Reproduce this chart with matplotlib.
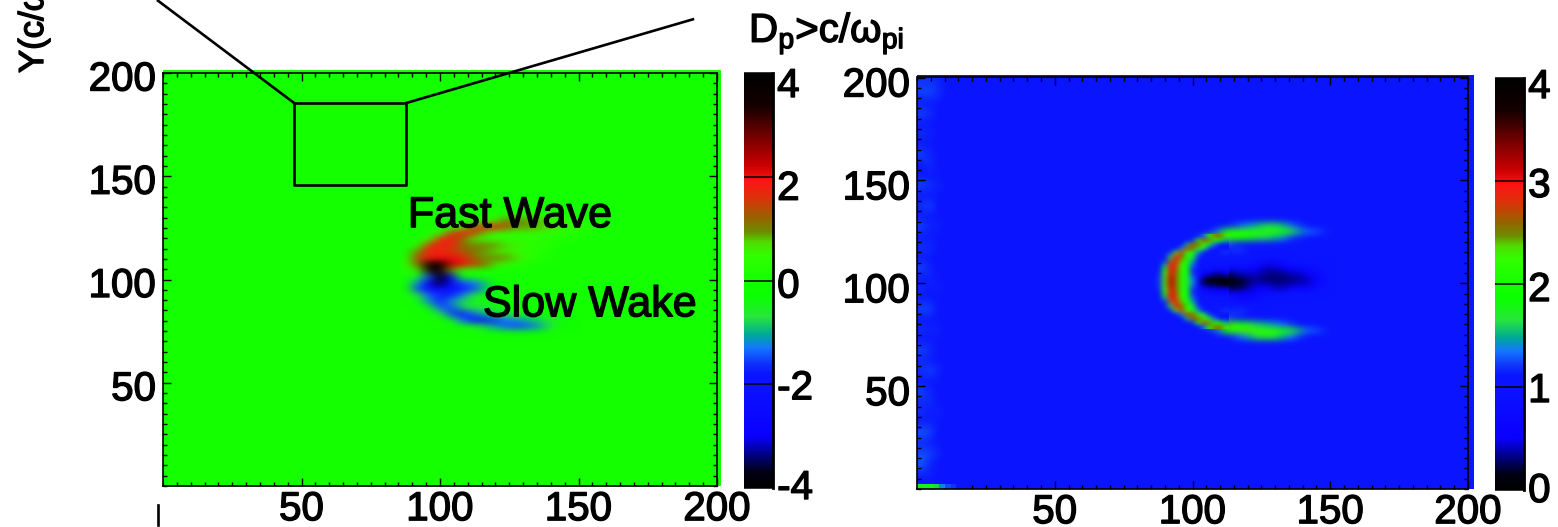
import matplotlib
matplotlib.use("Agg")
import numpy as np
import matplotlib.pyplot as plt
import matplotlib.patheffects as pe
from matplotlib.colors import LinearSegmentedColormap
from matplotlib.patches import Rectangle
from matplotlib.transforms import ScaledTranslation
from matplotlib.ticker import MultipleLocator

plt.rcParams['font.family'] = ['Liberation Sans', 'DejaVu Sans']
plt.rcParams['mathtext.fontset'] = 'custom'
plt.rcParams['mathtext.rm'] = 'Liberation Sans'
plt.rcParams['mathtext.it'] = 'Liberation Sans'
plt.rcParams['mathtext.bf'] = 'Liberation Sans:bold'

W, H = 1558, 527

# ---- data ----
tick_values = [50, 100, 150, 200]
tick_labels = ['50', '100', '150', '200']
left_cbar_ticks = [4, 2, 0, -2, -4]
left_cbar_labels = ['4', '2', '0', '-2', '-4']
right_cbar_ticks = [4, 3, 2, 1, 0]
right_cbar_labels = ['4', '3', '2', '1', '0']

box_x = [47.3, 87.9, 87.9, 47.3, 47.3]
box_y = [185.5, 185.5, 145.8, 145.8, 185.5]
connector_left_x = [47.3, -1.8]
connector_left_y = [185.5, 235.0]
connector_right_x = [87.9, 191.3]
connector_right_y = [185.5, 226.0]
stub_x = [-1.8, -1.8]
stub_y = [-9.2, -19.0]

left_xs = [88, 92, 96, 100, 104, 108, 112, 116, 120, 124, 128, 132, 136, 140, 144, 148, 152, 156, 160]
left_ys = [134, 131, 128, 125, 122, 119, 116, 113, 110, 107, 104, 101, 98, 95, 92, 89, 86, 83, 80, 77, 74, 71]
left_field = [
 [0, 0, 0, 0, 0, 0, 0, 0, 0, 0, 0, 0, 0, 0, 0, 0, 0, 0, 0],
 [0, 0, 0, 0, 0, 0, 0, 0, .1, .2, .3, .3, .2, .1, .1, 0, 0, 0, 0],
 [0, 0, 0, 0, 0, 0, .1, .3, .6, 1.0, 1.0, .9, .8, .6, .4, .3, .1, 0, 0],
 [0, 0, 0, 0, .2, .6, 1.4, 1.8, 1.8, 1.3, .9, .9, .8, .7, .6, .5, .3, .2, .1],
 [0, 0, 0, .5, 1.4, 1.8, 1.5, .8, .5, .4, .5, .5, .5, .4, .3, .2, .1, 0, 0],
 [0, 0, .5, 1.7, 1.9, 1.2, .7, .5, .5, .4, .3, .3, .3, .2, .1, .1, 0, 0, 0],
 [0, .3, 1.6, 1.8, 1.7, 1.2, 1.0, 1.0, .9, .7, .6, .4, .3, .2, .1, 0, 0, 0, 0],
 [0, 1.0, 1.8, 1.7, 1.6, 1.3, 1.1, .9, .7, .6, .4, .3, .2, .1, 0, 0, 0, 0, 0],
 [.1, 1.4, 1.8, 2.0, 2.0, 1.8, 1.2, .9, 1.0, .9, .7, .4, .2, .1, 0, 0, 0, 0, 0],
 [.3, 1.2, 3.6, 3.9, 2.3, 2.0, 1.5, 1.2, .7, .4, .2, .1, 0, 0, 0, 0, 0, 0, 0],
 [.1, .6, 3.2, 3.8, 1.0, .3, .1, 0, 0, 0, 0, 0, 0, 0, 0, 0, 0, 0, 0],
 [0, -.5, -1.5, -3.9, -3.0, -.4, -.1, 0, 0, 0, 0, 0, 0, 0, 0, 0, 0, 0, 0],
 [0, -1.2, -3.0, -3.6, -2.8, -1.5, -1.3, -.9, -.3, 0, 0, 0, 0, 0, 0, 0, 0, 0, 0],
 [0, -1.5, -2.4, -2.4, -2.2, -1.8, -1.5, -1.0, -.4, -.1, 0, 0, 0, 0, 0, 0, 0, 0, 0],
 [0, -.7, -1.4, -1.7, -1.7, -1.3, -.7, -.4, -.2, -.1, 0, 0, 0, 0, 0, 0, 0, 0, 0],
 [0, -.1, -1.2, -1.7, -1.2, -.8, -.5, -.4, -.3, -.1, 0, 0, 0, 0, 0, 0, 0, 0, 0],
 [0, 0, -.4, -1.4, -1.5, -.9, -.7, -.7, -.5, -.3, -.2, -.1, 0, 0, 0, 0, 0, 0, 0],
 [0, 0, -.1, -.6, -1.5, -1.8, -1.4, -1.0, -.8, -.6, -.5, -.4, -.3, -.2, -.1, 0, 0, 0, 0],
 [0, 0, 0, -.1, -.4, -1.3, -1.8, -1.8, -1.6, -1.3, -1.2, -1.0, -.8, -.6, -.4, -.1, 0, 0, 0],
 [0, 0, 0, 0, -.1, -.2, -.5, -.8, -1.1, -1.4, -1.5, -1.4, -1.1, -.7, -.3, -.1, 0, 0, 0],
 [0, 0, 0, 0, 0, 0, 0, 0, -.2, -.3, -.4, -.3, -.2, -.1, 0, 0, 0, 0, 0],
 [0, 0, 0, 0, 0, 0, 0, 0, 0, 0, 0, 0, 0, 0, 0, 0, 0, 0, 0],
]

right_xs = [88, 91, 94, 97, 100, 103, 106, 109, 112, 115, 118, 121, 124, 127, 130, 133, 136, 139, 142, 145, 148, 151]
right_ys = [131, 128, 125, 122, 119, 116, 113, 110, 107, 104, 101, 98, 95, 92, 89, 86, 83, 80, 77, 74, 71]
right_field = [
 [1.05, 1.05, 1.05, 1.05, 1.05, 1.05, 1.05, 1.05, 1.05, 1.05, 1.05, 1.05, 1.05, 1.05, 1.05, 1.05, 1.05, 1.05, 1.05, 1.05, 1.05, 1.05],
 [1.05, 1.05, 1.05, 1.05, 1.05, 1.05, 1.05, 1.05, 1.05, 1.2, 1.3, 1.4, 1.5, 1.6, 1.6, 1.5, 1.3, 1.2, 1.05, 1.05, 1.05, 1.05],
 [1.05, 1.05, 1.05, 1.05, 1.05, 1.05, 1.1, 1.3, 1.9, 2.15, 2.1, 2.1, 2.15, 2.1, 2.1, 2.0, 1.7, 1.45, 1.3, 1.25, 1.15, 1.05],
 [1.05, 1.05, 1.05, 1.05, 1.05, 1.2, 2.2, 2.45, 2.3, 2.05, 1.95, 1.8, 1.6, 1.6, 1.5, 1.4, 1.2, 1.15, 1.1, 1.05, 1.05, 1.05],
 [1.05, 1.05, 1.05, 1.2, 2.0, 2.6, 2.3, 1.7, 1.3, 1.15, 1.1, 1.05, 1.05, 1.05, 1.05, 1.05, 1.05, 1.05, 1.05, 1.05, 1.05, 1.05],
 [1.05, 1.05, 1.4, 2.7, 2.15, 1.6, 1.2, 1.05, 1.05, 1.2, 1.2, 1.1, 1.05, 1.05, 1.05, 1.05, 1.05, 1.05, 1.05, 1.05, 1.05, 1.05],
 [1.05, 1.2, 2.75, 2.2, 1.6, 1.15, 1.05, 1.05, 1.05, 1.05, 1.05, 1.05, 1.05, 1.05, 1.05, 1.05, 1.05, 1.05, 1.05, 1.05, 1.05, 1.05],
 [1.05, 2.0, 2.9, 2.05, 1.3, 1.05, 1.05, 1.05, 1.05, 1.05, 1.05, 1.05, .9, .7, .7, .8, 1.0, 1.05, 1.05, 1.05, 1.05, 1.05],
 [1.1, 2.7, 2.8, 2.05, 1.3, .9, .9, .8, .8, .8, .8, .7, .5, .4, .4, .5, .6, .7, .8, .9, 1.05, 1.05],
 [1.2, 3.0, 2.6, 2.0, 1.4, .7, .3, .2, .2, .3, .4, .4, .4, .3, .3, .3, .4, .4, .5, .7, .9, 1.05],
 [1.3, 3.1, 2.5, 1.9, 1.5, .5, .05, 0, 0, .05, .15, .3, .35, .3, .3, .3, .3, .35, .4, .6, .9, 1.05],
 [1.2, 3.0, 2.6, 2.0, 1.4, .8, .4, .3, .2, .2, .25, .4, .5, .5, .4, .4, .5, .5, .6, .8, 1.0, 1.05],
 [1.1, 2.7, 2.8, 2.05, 1.3, 1.0, .9, .8, .7, .6, .5, .6, .7, .8, .9, .9, 1.0, 1.05, 1.05, 1.05, 1.05, 1.05],
 [1.05, 2.0, 2.9, 2.05, 1.3, 1.05, 1.05, 1.05, 1.05, .9, .7, .7, .9, 1.05, 1.05, 1.05, 1.05, 1.05, 1.05, 1.05, 1.05, 1.05],
 [1.05, 1.2, 2.75, 2.2, 1.6, 1.15, 1.05, 1.05, 1.05, 1.05, 1.05, 1.05, 1.05, 1.05, 1.05, 1.05, 1.05, 1.05, 1.05, 1.05, 1.05, 1.05],
 [1.05, 1.05, 1.4, 2.7, 2.15, 1.6, 1.2, 1.05, 1.05, 1.2, 1.2, 1.1, 1.05, 1.05, 1.05, 1.05, 1.05, 1.05, 1.05, 1.05, 1.05, 1.05],
 [1.05, 1.05, 1.05, 1.2, 2.0, 2.6, 2.4, 1.7, 1.3, 1.15, 1.1, 1.05, 1.05, 1.05, 1.05, 1.05, 1.05, 1.05, 1.05, 1.05, 1.05, 1.05],
 [1.05, 1.05, 1.05, 1.05, 1.05, 1.2, 2.2, 2.55, 2.45, 2.2, 1.9, 1.7, 1.55, 1.5, 1.4, 1.3, 1.2, 1.1, 1.1, 1.05, 1.05, 1.05],
 [1.05, 1.05, 1.05, 1.05, 1.05, 1.05, 1.1, 1.3, 1.9, 2.2, 2.3, 2.3, 2.25, 2.2, 2.1, 1.95, 1.75, 1.5, 1.3, 1.25, 1.15, 1.05],
 [1.05, 1.05, 1.05, 1.05, 1.05, 1.05, 1.05, 1.05, 1.05, 1.2, 1.35, 1.5, 1.7, 1.75, 1.7, 1.5, 1.35, 1.2, 1.1, 1.05, 1.05, 1.05],
 [1.05, 1.05, 1.05, 1.05, 1.05, 1.05, 1.05, 1.05, 1.05, 1.05, 1.05, 1.05, 1.05, 1.05, 1.05, 1.05, 1.05, 1.05, 1.05, 1.05, 1.05, 1.05],
]

# finer reading of the nose of the arc in the right panel
nose_xs = [86, 88, 90, 92, 94, 96, 98, 100, 102, 104, 106, 108, 110, 112]
nose_ys = [123, 121, 119, 117, 115, 113, 111, 109, 107, 105, 103, 101, 99, 97, 95, 93, 91, 89, 87, 85, 83, 81, 79]
nose_field = [
 [1.05, 1.05, 1.05, 1.05, 1.05, 1.05, 1.05, 1.05, 1.05, 1.3, 2.0, 2.55, 2.5, 2.3],
 [1.05, 1.05, 1.05, 1.05, 1.05, 1.05, 1.05, 1.2, 2.0, 2.7, 2.5, 2.2, 1.9, 1.5],
 [1.05, 1.05, 1.05, 1.05, 1.05, 1.05, 1.5, 2.6, 2.6, 2.2, 1.8, 1.3, 1.1, 1.05],
 [1.05, 1.05, 1.05, 1.05, 1.05, 1.4, 2.7, 2.6, 2.1, 1.7, 1.2, 1.05, 1.05, 1.1],
 [1.05, 1.05, 1.05, 1.2, 2.3, 2.8, 2.2, 1.9, 1.4, 1.1, 1.05, 1.05, 1.15, 1.2],
 [1.05, 1.05, 1.05, 1.6, 2.9, 2.6, 2.05, 1.7, 1.2, 1.05, 1.05, 1.05, 1.05, 1.05],
 [1.05, 1.05, 1.2, 2.5, 2.9, 2.4, 2.0, 1.5, 1.1, 1.05, 1.05, 1.05, 1.05, 1.05],
 [1.05, 1.05, 1.5, 2.9, 2.8, 2.2, 1.9, 1.3, 1.05, 1.05, 1.05, 1.05, 1.05, 1.05],
 [1.05, 1.1, 1.9, 3.0, 2.7, 2.15, 1.8, 1.2, 1.0, .9, .9, .8, .8, .8],
 [1.05, 1.15, 2.2, 3.0, 2.6, 2.1, 1.8, 1.2, .9, .7, .5, .4, .4, .5],
 [1.05, 1.2, 2.3, 3.1, 2.6, 2.1, 1.8, 1.3, .8, .4, .2, .2, .2, .2],
 [1.05, 1.2, 2.3, 3.1, 2.6, 2.1, 1.7, 1.4, .7, .2, .05, 0, 0, 0],
 [1.05, 1.2, 2.3, 3.1, 2.6, 2.1, 1.8, 1.3, .8, .4, .3, .3, .2, .2],
 [1.05, 1.15, 2.2, 3.0, 2.6, 2.1, 1.8, 1.2, .9, .7, .6, .5, .5, .5],
 [1.05, 1.1, 1.9, 3.0, 2.7, 2.15, 1.8, 1.2, 1.0, .9, .9, .8, .8, .8],
 [1.05, 1.05, 1.5, 2.9, 2.8, 2.2, 1.9, 1.3, 1.05, 1.05, 1.05, 1.05, 1.05, 1.05],
 [1.05, 1.05, 1.2, 2.5, 2.9, 2.4, 2.0, 1.5, 1.1, 1.05, 1.05, 1.05, 1.05, 1.05],
 [1.05, 1.05, 1.05, 1.6, 2.9, 2.6, 2.05, 1.7, 1.2, 1.05, 1.05, 1.05, 1.05, 1.05],
 [1.05, 1.05, 1.05, 1.2, 2.3, 2.8, 2.2, 1.9, 1.4, 1.1, 1.05, 1.05, 1.15, 1.2],
 [1.05, 1.05, 1.05, 1.05, 1.05, 1.4, 2.7, 2.6, 2.1, 1.7, 1.2, 1.05, 1.05, 1.1],
 [1.05, 1.05, 1.05, 1.05, 1.05, 1.05, 1.5, 2.6, 2.6, 2.2, 1.8, 1.3, 1.1, 1.05],
 [1.05, 1.05, 1.05, 1.05, 1.05, 1.05, 1.05, 1.2, 2.0, 2.7, 2.5, 2.2, 1.9, 1.5],
 [1.05, 1.05, 1.05, 1.05, 1.05, 1.05, 1.05, 1.05, 1.05, 1.3, 2.0, 2.55, 2.5, 2.3],
]

# streaks along the left edge of the right panel, top row = y 197.5, step 5
edge_rows = [
 [1.2, 1.2, 1.15, 1.1, 1.05, 1.05], [1.25, 1.25, 1.2, 1.1, 1.05, 1.05], [1.1, 1.05, 1.05, 1.05, 1.05, 1.05],
 [1.25, 1.2, 1.1, 1.05, 1.05, 1.05], [1.05, 1.1, 1.05, 1.05, 1.05, 1.05], [1.2, 1.15, 1.05, 1.05, 1.05, 1.05],
 [1.05, 1.05, 1.1, 1.05, 1.05, 1.05], [1.25, 1.15, 1.05, 1.05, 1.05, 1.05], [1.1, 1.2, 1.05, 1.05, 1.05, 1.05],
 [1.05, 1.05, 1.1, 1.05, 1.05, 1.05], [1.25, 1.2, 1.15, 1.05, 1.05, 1.05], [1.1, 1.05, 1.05, 1.05, 1.05, 1.05],
 [1.2, 1.25, 1.1, 1.05, 1.05, 1.05], [1.05, 1.1, 1.05, 1.05, 1.05, 1.05], [1.25, 1.15, 1.15, 1.05, 1.05, 1.05],
 [1.1, 1.05, 1.05, 1.05, 1.05, 1.05], [1.2, 1.2, 1.1, 1.05, 1.05, 1.05], [1.05, 1.1, 1.05, 1.05, 1.05, 1.05],
 [1.25, 1.15, 1.1, 1.05, 1.05, 1.05], [1.1, 1.15, 1.05, 1.05, 1.05, 1.05], [1.2, 1.1, 1.15, 1.05, 1.05, 1.05],
 [1.05, 1.05, 1.05, 1.05, 1.05, 1.05], [1.25, 1.25, 1.1, 1.05, 1.05, 1.05], [1.1, 1.1, 1.05, 1.05, 1.05, 1.05],
 [1.2, 1.15, 1.15, 1.05, 1.05, 1.05], [1.05, 1.1, 1.05, 1.05, 1.05, 1.05], [1.25, 1.2, 1.1, 1.05, 1.05, 1.05],
 [1.15, 1.05, 1.05, 1.05, 1.05, 1.05], [1.2, 1.25, 1.15, 1.05, 1.05, 1.05], [1.1, 1.1, 1.05, 1.05, 1.05, 1.05],
 [1.25, 1.15, 1.1, 1.05, 1.05, 1.05], [1.15, 1.2, 1.05, 1.05, 1.05, 1.05], [1.2, 1.1, 1.15, 1.05, 1.05, 1.05],
 [1.1, 1.15, 1.05, 1.05, 1.05, 1.05], [1.3, 1.25, 1.1, 1.05, 1.05, 1.05], [1.15, 1.1, 1.05, 1.05, 1.05, 1.05],
 [1.25, 1.25, 1.15, 1.05, 1.05, 1.05], [1.3, 1.15, 1.05, 1.05, 1.05, 1.05], [1.15, 1.15, 1.1, 1.05, 1.05, 1.05],
 [1.1, 1.1, 1.1, 1.1, 1.1, 1.05],
]
corner_values = [[1.75, 1.75, 1.75, 1.6, 1.4, 1.25, 1.2, 1.1]]

cmap_levels = [0, .15, .3, .5, 1.0, 1.1, 1.2, 1.35, 1.48, 1.65, 1.85, 2.0, 2.24, 2.37, 2.47, 2.6, 2.8, 2.96, 3.12, 3.38, 3.69, 4]
cmap_colors = [(0, 0, 0), (0, 0, 20), (0, 0, 120), (10, 0, 255), (10, 20, 255), (10, 20, 255), (15, 50, 250), (20, 120, 255),
               (0, 170, 150), (40, 230, 60), (10, 255, 0), (20, 255, 0), (50, 255, 0), (80, 220, 0), (110, 140, 0), (150, 100, 0),
               (220, 50, 10), (255, 20, 20), (200, 0, 0), (120, 0, 0), (20, 0, 0), (0, 0, 0)]

cmap = LinearSegmentedColormap.from_list(
    'rootish', [(l / 4, tuple(c / 255 for c in col)) for l, col in zip(cmap_levels, cmap_colors)], N=512)

# ---- layout helpers ----
fig = plt.figure(figsize=(W / 100, H / 100), dpi=100, facecolor='white')
FS = 29
heavy = [pe.withStroke(linewidth=1.0, foreground='black')]


def px_axes(x0, y0, x1, y1):
    return fig.add_axes([x0 / W, 1 - y1 / H, (x1 - x0) / W, (y1 - y0) / H])


def shift_px(label, dx, dy):
    label.set_transform(label.get_transform() + ScaledTranslation(dx / 100, -dy / 100, fig.dpi_scale_trans))


def grid_extent(xs, ys):
    dx = xs[1] - xs[0]
    dy = abs(ys[1] - ys[0])
    return (xs[0] - dx / 2, xs[-1] + dx / 2, ys[-1] - dy / 2, ys[0] + dy / 2)


def panel(box, over_x, over_y, vmin, vmax, bg, xs, ys, field, ydy):
    ax = px_axes(*box)
    ax.add_patch(Rectangle((0, 0), over_x, over_y, facecolor=cmap((bg - vmin) / (vmax - vmin)),
                           edgecolor='none', clip_on=False, zorder=0))
    ax.imshow(field, extent=grid_extent(xs, ys), origin='upper', cmap=cmap, vmin=vmin, vmax=vmax,
              aspect='auto', interpolation='bicubic', interpolation_stage='rgba', zorder=1)
    ax.set_xlim(0, 200)
    ax.set_ylim(0, 200)
    ax.set_xticks(tick_values, tick_labels)
    ax.set_yticks(tick_values, tick_labels)
    ax.xaxis.set_minor_locator(MultipleLocator(5))
    ax.yaxis.set_minor_locator(MultipleLocator(5))
    ax.tick_params(which='major', direction='in', length=6, width=1.0, top=True, right=True,
                   labelsize=FS, zorder=5)
    ax.tick_params(which='minor', direction='in', length=3, width=1.0, top=True, right=True)
    ax.tick_params(axis='x', which='major', pad=3)
    ax.tick_params(axis='y', which='major', pad=5)
    for lab in ax.get_xticklabels() + ax.get_yticklabels():
        lab.set_path_effects(heavy)
    for lab in ax.get_yticklabels():
        shift_px(lab, 0, ydy)
    for s in ax.spines.values():
        s.set_linewidth(1.2)
        s.set_zorder(6)
    return ax


def colorbar(box, vmin, vmax, ticks, labels, offsets):
    cax = px_axes(*box)
    grad = np.linspace(vmax, vmin, 512).reshape(-1, 1)
    cax.imshow(grad, extent=(0, 1, vmin, vmax), cmap=cmap, vmin=vmin, vmax=vmax, aspect='auto')
    cax.set_xlim(0, 1)
    cax.set_ylim(vmin, vmax)
    cax.set_xticks([])
    cax.yaxis.tick_right()
    cax.set_yticks(ticks, labels)
    cax.tick_params(axis='y', direction='in', length=21, width=1.1, labelsize=FS, pad=3)
    for lab, off in zip(cax.get_yticklabels(), offsets):
        lab.set_path_effects(heavy)
        shift_px(lab, 0, off)
    for name, s in cax.spines.items():
        s.set_visible(name == 'right')
        s.set_linewidth(2)


# ---- left panel ----
axL = panel((163, 73, 717, 486), 201.5, 201.5, -4, 4, 0, left_xs, left_ys, left_field, 2.5)
axL.plot(box_x, box_y, color='black', lw=1.9, zorder=7)
for xx, yy in ((connector_left_x, connector_left_y), (connector_right_x, connector_right_y), (stub_x, stub_y)):
    axL.plot(xx, yy, color='black', lw=1.9, clip_on=False, zorder=7)
axL.text(88.4, 130.7, 'Fast Wave', fontsize=31, color='black', va='center', ha='left', zorder=8, path_effects=heavy)
axL.text(115.5, 87.5, 'Slow Wake', fontsize=31, color='black', va='center', ha='left', zorder=8, path_effects=heavy)

# ---- right panel ----
axR = panel((917, 77.5, 1468, 489), 202.2, 201.2, 0, 4, 1.05, right_xs, right_ys, right_field, 4)
axR.imshow(nose_field, extent=grid_extent(nose_xs, nose_ys), origin='upper', cmap=cmap, vmin=0, vmax=4, aspect='auto',
           interpolation='bicubic', interpolation_stage='rgba', zorder=1.5)
axR.imshow(edge_rows, extent=(0, 18, 0, 200), origin='upper', cmap=cmap, vmin=0, vmax=4, aspect='auto',
           interpolation='bicubic', interpolation_stage='rgba', zorder=1)
axR.imshow(corner_values, extent=(0, 16, 0, 2.2), origin='upper', cmap=cmap, vmin=0, vmax=4, aspect='auto',
           interpolation='nearest', zorder=2)
axR.set_xlim(0, 200)
axR.set_ylim(0, 200)

# ---- colour bars ----
colorbar((744, 73, 773, 488), -4, 4, left_cbar_ticks, left_cbar_labels, [9, 8, 2, 0, -4])
colorbar((1495, 78, 1524, 490), 0, 4, right_cbar_ticks, right_cbar_labels, [5, 1, 2, 0, -3])

# ---- free text ----
fig.text(749 / W, 1 - 42 / H, r'D$_{\mathrm{p}}$>c/ω$_{\mathrm{pi}}$', fontsize=29, color='black',
         ha='left', va='baseline', path_effects=heavy)
fig.text(50 / W, 1 - 73 / H, 'Y(c/ω', fontsize=25, color='black', rotation=90, ha='right', va='bottom',
         path_effects=heavy)

fig.savefig('out.png', dpi=100)
